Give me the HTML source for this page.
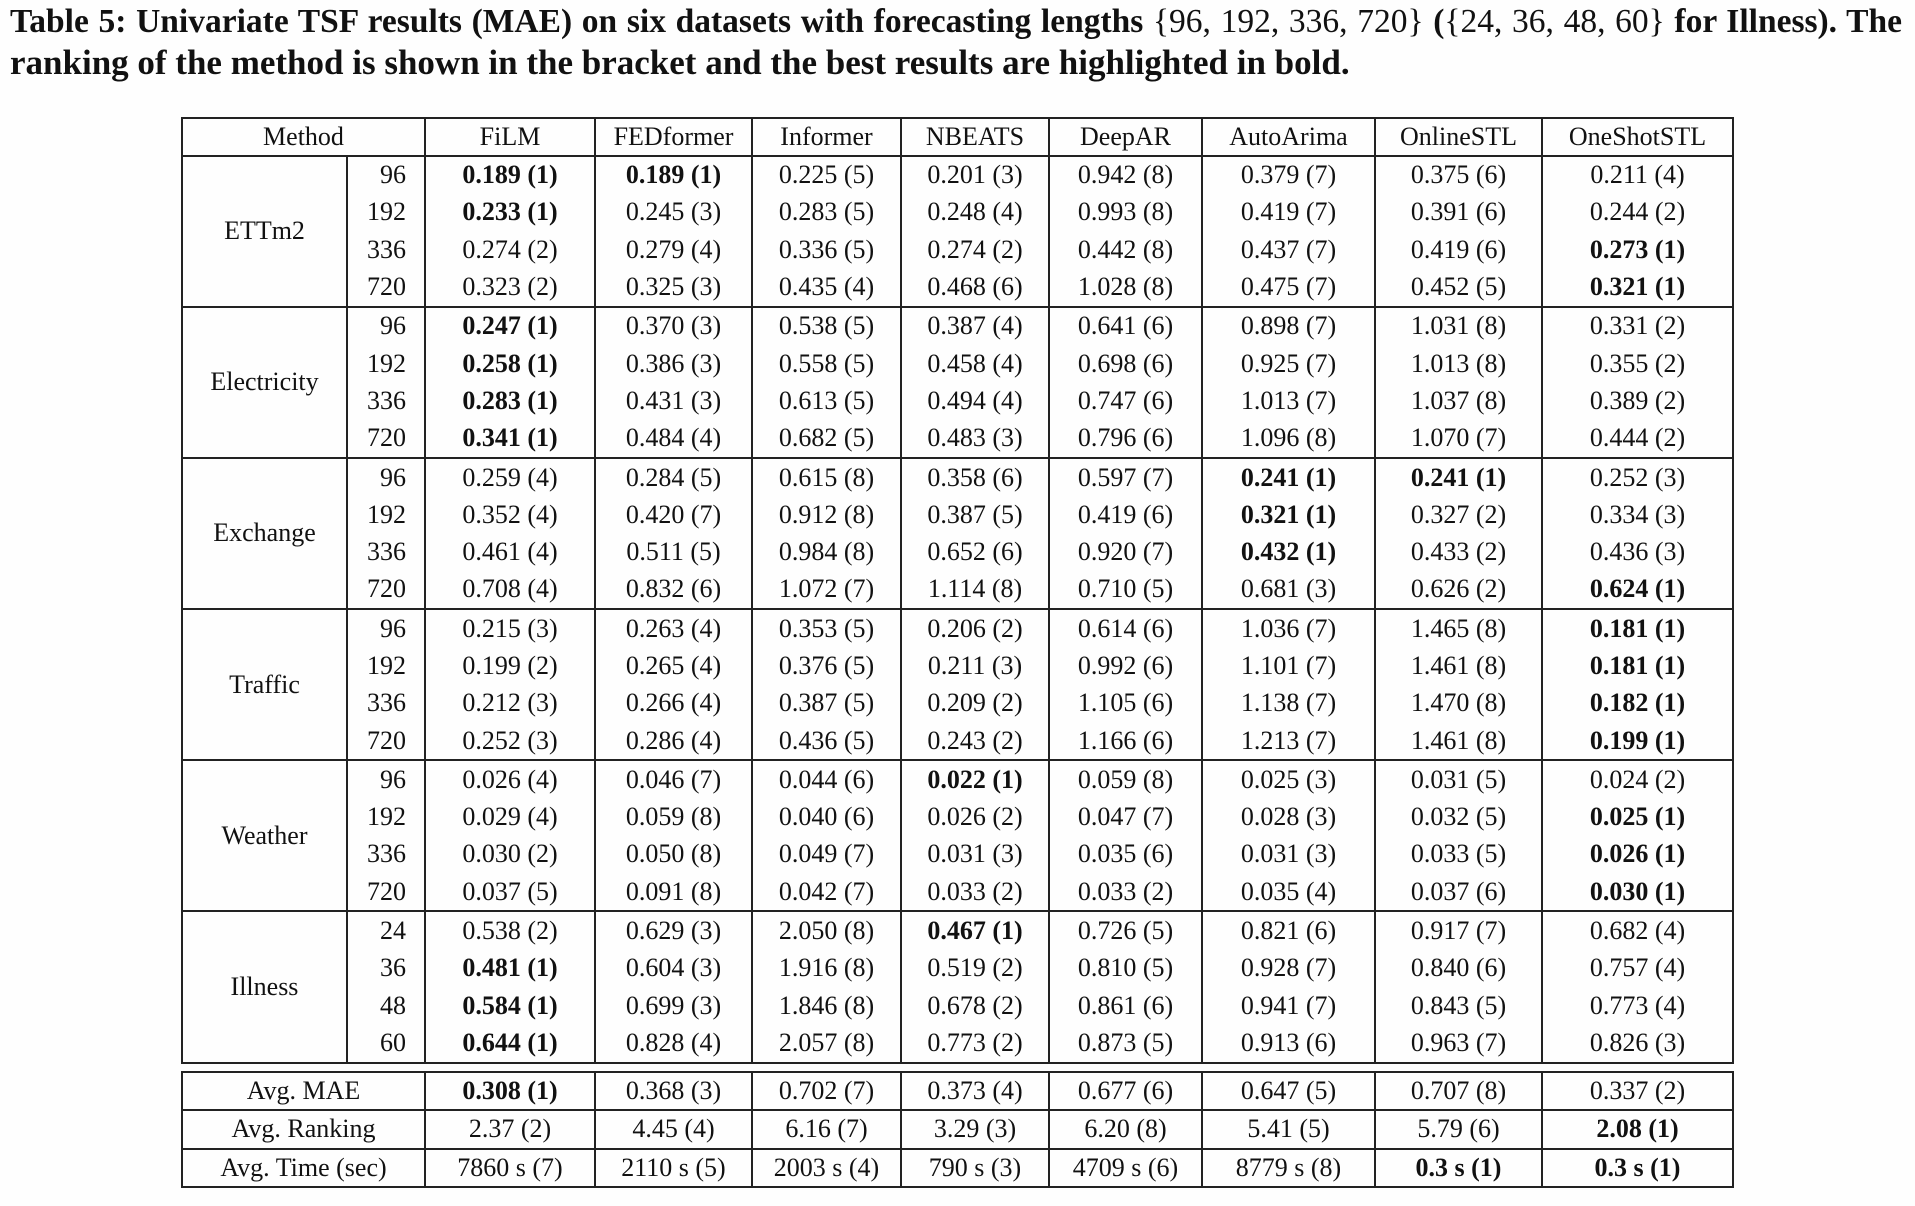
<!DOCTYPE html>
<html><head><meta charset="utf-8">
<style>
html,body{margin:0;padding:0;background:#fefefe;}
body{width:1915px;height:1206px;position:relative;overflow:hidden;font-family:"Liberation Serif",serif;color:#111;}
.title{position:absolute;left:10px;width:1892px;font-weight:bold;font-size:35px;line-height:40px;white-space:nowrap;}
.t1{top:2px;font-size:33.5px;text-align:justify;text-align-last:justify;}
.t2{top:43px;}
.m{font-weight:normal;}
table{position:absolute;left:181px;border-collapse:collapse;table-layout:fixed;font-size:26px;}
td{border-left:2px solid #222;border-right:2px solid #222;padding:0;text-align:center;white-space:nowrap;line-height:1;}
#t1{top:117px;border-bottom:2px solid #222;}
#t2{top:1071px;}
#t1 td{height:37.3px;}
#t1 tr.hdr td{height:35.5px;border-top:2px solid #222;border-bottom:2px solid #222;}
#t1 tr.gstart td{border-top:2px solid #222;}
#t1 tr.last td, #t1 td.lastlabel{border-bottom:2px solid #222;}
#t2 td{height:36.3px;border:2px solid #222;}
td.len{text-align:right;padding-right:18px;}
b{font-weight:bold;}
</style></head>
<body>
<div class="title t1">Table 5: Univariate TSF results (MAE) on six datasets with forecasting lengths <span class="m">{96, 192, 336, 720}</span> (<span class="m">{24, 36, 48, 60}</span> for Illness). The</div>
<div class="title t2">ranking of the method is shown in the bracket and the best results are highlighted in bold.</div>

<table id="t1">
<colgroup><col style="width:165px"><col style="width:78px"><col style="width:170px"><col style="width:157px"><col style="width:149px"><col style="width:148px"><col style="width:153px"><col style="width:173px"><col style="width:167px"><col style="width:191px"></colgroup>
<tbody id="body1"></tbody>
</table>

<table id="t2">
<colgroup><col style="width:243px"><col style="width:170px"><col style="width:157px"><col style="width:149px"><col style="width:148px"><col style="width:153px"><col style="width:173px"><col style="width:167px"><col style="width:191px"></colgroup>
<tbody id="body2"></tbody>
</table>

<script>
const methods=["FiLM","FEDformer","Informer","NBEATS","DeepAR","AutoArima","OnlineSTL","OneShotSTL"];
const datasets=["ETTm2","Electricity","Exchange","Traffic","Weather","Illness"];
const lengths=[[96,192,336,720],[96,192,336,720],[96,192,336,720],[96,192,336,720],[96,192,336,720],[24,36,48,60]];
const values=[
["*0.189 (1)","*0.189 (1)","0.225 (5)","0.201 (3)","0.942 (8)","0.379 (7)","0.375 (6)","0.211 (4)"],
["*0.233 (1)","0.245 (3)","0.283 (5)","0.248 (4)","0.993 (8)","0.419 (7)","0.391 (6)","0.244 (2)"],
["0.274 (2)","0.279 (4)","0.336 (5)","0.274 (2)","0.442 (8)","0.437 (7)","0.419 (6)","*0.273 (1)"],
["0.323 (2)","0.325 (3)","0.435 (4)","0.468 (6)","1.028 (8)","0.475 (7)","0.452 (5)","*0.321 (1)"],
["*0.247 (1)","0.370 (3)","0.538 (5)","0.387 (4)","0.641 (6)","0.898 (7)","1.031 (8)","0.331 (2)"],
["*0.258 (1)","0.386 (3)","0.558 (5)","0.458 (4)","0.698 (6)","0.925 (7)","1.013 (8)","0.355 (2)"],
["*0.283 (1)","0.431 (3)","0.613 (5)","0.494 (4)","0.747 (6)","1.013 (7)","1.037 (8)","0.389 (2)"],
["*0.341 (1)","0.484 (4)","0.682 (5)","0.483 (3)","0.796 (6)","1.096 (8)","1.070 (7)","0.444 (2)"],
["0.259 (4)","0.284 (5)","0.615 (8)","0.358 (6)","0.597 (7)","*0.241 (1)","*0.241 (1)","0.252 (3)"],
["0.352 (4)","0.420 (7)","0.912 (8)","0.387 (5)","0.419 (6)","*0.321 (1)","0.327 (2)","0.334 (3)"],
["0.461 (4)","0.511 (5)","0.984 (8)","0.652 (6)","0.920 (7)","*0.432 (1)","0.433 (2)","0.436 (3)"],
["0.708 (4)","0.832 (6)","1.072 (7)","1.114 (8)","0.710 (5)","0.681 (3)","0.626 (2)","*0.624 (1)"],
["0.215 (3)","0.263 (4)","0.353 (5)","0.206 (2)","0.614 (6)","1.036 (7)","1.465 (8)","*0.181 (1)"],
["0.199 (2)","0.265 (4)","0.376 (5)","0.211 (3)","0.992 (6)","1.101 (7)","1.461 (8)","*0.181 (1)"],
["0.212 (3)","0.266 (4)","0.387 (5)","0.209 (2)","1.105 (6)","1.138 (7)","1.470 (8)","*0.182 (1)"],
["0.252 (3)","0.286 (4)","0.436 (5)","0.243 (2)","1.166 (6)","1.213 (7)","1.461 (8)","*0.199 (1)"],
["0.026 (4)","0.046 (7)","0.044 (6)","*0.022 (1)","0.059 (8)","0.025 (3)","0.031 (5)","0.024 (2)"],
["0.029 (4)","0.059 (8)","0.040 (6)","0.026 (2)","0.047 (7)","0.028 (3)","0.032 (5)","*0.025 (1)"],
["0.030 (2)","0.050 (8)","0.049 (7)","0.031 (3)","0.035 (6)","0.031 (3)","0.033 (5)","*0.026 (1)"],
["0.037 (5)","0.091 (8)","0.042 (7)","0.033 (2)","0.033 (2)","0.035 (4)","0.037 (6)","*0.030 (1)"],
["0.538 (2)","0.629 (3)","2.050 (8)","*0.467 (1)","0.726 (5)","0.821 (6)","0.917 (7)","0.682 (4)"],
["*0.481 (1)","0.604 (3)","1.916 (8)","0.519 (2)","0.810 (5)","0.928 (7)","0.840 (6)","0.757 (4)"],
["*0.584 (1)","0.699 (3)","1.846 (8)","0.678 (2)","0.861 (6)","0.941 (7)","0.843 (5)","0.773 (4)"],
["*0.644 (1)","0.828 (4)","2.057 (8)","0.773 (2)","0.873 (5)","0.913 (6)","0.963 (7)","0.826 (3)"]
];
const summaryLabels=["Avg. MAE","Avg. Ranking","Avg. Time (sec)"];
const summaryValues=[
["*0.308 (1)","0.368 (3)","0.702 (7)","0.373 (4)","0.677 (6)","0.647 (5)","0.707 (8)","0.337 (2)"],
["2.37 (2)","4.45 (4)","6.16 (7)","3.29 (3)","6.20 (8)","5.41 (5)","5.79 (6)","*2.08 (1)"],
["7860 s (7)","2110 s (5)","2003 s (4)","790 s (3)","4709 s (6)","8779 s (8)","*0.3 s (1)","*0.3 s (1)"]
];

function fill(td,s){
  if(s.startsWith("*")){const b=document.createElement("b");b.textContent=s.slice(1);td.appendChild(b);}
  else td.textContent=s;
}
const b1=document.getElementById("body1");
const hr=document.createElement("tr");hr.className="hdr";


const hm=document.createElement("td");hm.colSpan=2;hm.textContent="Method";


hr.appendChild(hm);
methods.forEach(m=>{const td=document.createElement("td");td.textContent=m;


hr.appendChild(td);});
b1.appendChild(hr);
let r=0;
datasets.forEach((ds,g)=>{
  lengths[g].forEach((L,i)=>{
    const tr=document.createElement("tr");
    if(i===0)tr.className="gstart";
    if(g===datasets.length-1&&i===3)tr.className+=" last";
    
    
    if(i===0){const td=document.createElement("td");td.rowSpan=4;td.textContent=ds;
      if(g===datasets.length-1)td.className="lastlabel";
      
      
      tr.appendChild(td);}
    const lt=document.createElement("td");lt.className="len";lt.textContent=L;
    
    
    tr.appendChild(lt);
    values[r].forEach(v=>{const td=document.createElement("td");fill(td,v);
      
      
      tr.appendChild(td);});
    b1.appendChild(tr);r++;
  });
});
const b2=document.getElementById("body2");
summaryLabels.forEach((lab,i)=>{
  const tr=document.createElement("tr");
  
  
  const td0=document.createElement("td");td0.textContent=lab;
  
  
  tr.appendChild(td0);
  summaryValues[i].forEach(v=>{const td=document.createElement("td");fill(td,v);
    
    
    tr.appendChild(td);});
  b2.appendChild(tr);
});
</script>
</body></html>
